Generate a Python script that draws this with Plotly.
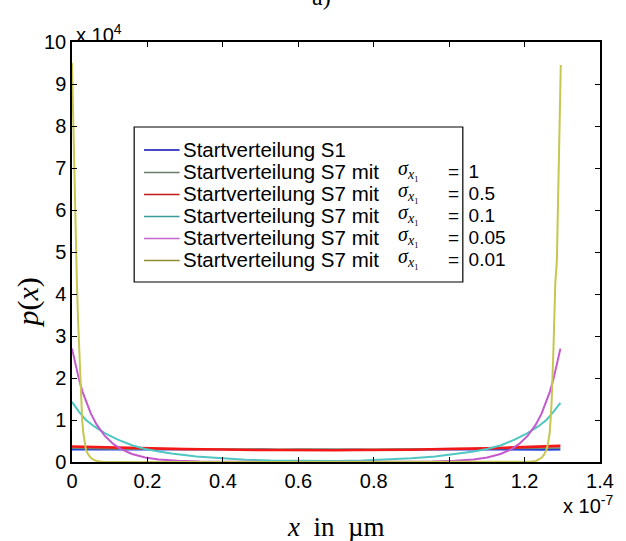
import plotly.graph_objects as go

# x values are in units of 1e-7, y values are absolute densities
X_UNIT = 1e-7

# --- data -------------------------------------------------------------
grid_x = [0, 0.05, 0.10, 0.15, 0.20, 0.25, 0.30, 0.35, 0.40, 0.45, 0.50, 0.55, 0.60,
          0.65, 0.70, 0.75, 0.80, 0.85, 0.90, 0.95, 1.00, 1.05, 1.10, 1.15, 1.20, 1.25, 1.295]

s1_y = [2900, 2950, 2870, 2980, 2900, 2940, 3010, 2880, 2960, 2920, 3000, 2890, 2950, 3020,
        2910, 2970, 2880, 2990, 2930, 2900, 2960, 2880, 2940, 2910, 2970, 2890, 2900]

sig1_y = [3300, 3200, 3150, 3100, 3120, 3050, 3080, 3020, 3060, 3000, 3040, 3010, 3050, 3000,
          3030, 3060, 3010, 3050, 3070, 3040, 3090, 3110, 3080, 3140, 3180, 3250, 3320]

sig05_y = [3700, 3580, 3430, 3350, 3220, 3170, 3060, 3030, 2940, 2920, 2850, 2860, 2790, 2820,
           2800, 2860, 2850, 2920, 2930, 3020, 3060, 3180, 3240, 3400, 3500, 3700, 3850]

sig01_x = [0, 0.018, 0.037, 0.06, 0.087, 0.12, 0.159, 0.194, 0.23, 0.264, 0.33, 0.395, 0.46,
           0.526, 0.6, 0.65, 0.7, 0.77, 0.84, 0.90, 0.963, 1.03, 1.065, 1.10, 1.138, 1.175,
           1.208, 1.235, 1.258, 1.277, 1.295]
sig01_y = [14300, 12000, 10000, 8400, 6900, 5400, 4000, 3100, 2500, 2000, 1300, 880, 550,
           350, 260, 240, 260, 350, 560, 870, 1300, 2000, 2500, 3100, 4000, 5400,
           6900, 8400, 10000, 12000, 14100]

sig005_x = [0, 0.01, 0.019, 0.028, 0.037, 0.05, 0.065, 0.087, 0.11, 0.13, 0.159, 0.194, 0.23,
            0.28, 0.34, 0.40, 0.5, 0.65, 0.8, 0.895, 0.955, 1.015, 1.065, 1.101, 1.136, 1.165,
            1.185, 1.208, 1.23, 1.245, 1.258, 1.267, 1.276, 1.285, 1.295]
sig005_y = [27000, 22800, 19500, 16700, 14400, 11500, 8950, 6200, 4250, 3050, 1900, 1080, 620,
            290, 130, 60, 25, 15, 25, 60, 130, 290, 620, 1080, 1900, 3050,
            4250, 6200, 8950, 11500, 14400, 16700, 19500, 22800, 27000]

sig001_x = [0, 0.005, 0.0105, 0.013, 0.016, 0.019, 0.024, 0.027, 0.030, 0.034, 0.037, 0.043,
            0.05, 0.057, 0.065, 0.08, 0.1, 0.3, 0.65, 1.0, 1.2, 1.215, 1.23, 1.238, 1.245,
            1.252, 1.258, 1.262, 1.2665, 1.269, 1.272, 1.2765, 1.279, 1.2815, 1.2857, 1.291,
            1.296]
sig001_y = [95000, 72000, 50500, 42600, 34000, 26700, 14800, 10000, 6900, 4300, 2900, 1800,
            1000, 550, 250, 40, 0, 0, 0, 0, 0, 40, 250, 550, 1000,
            1800, 2900, 4300, 6900, 10000, 14800, 26700, 34000, 42600, 48000, 72000,
            94500]

sigma_labels = ["1", "0.5", "0.1", "0.05", "0.01"]
x_tick_values = [0, 0.2, 0.4, 0.6, 0.8, 1.0, 1.2, 1.4]
x_tick_labels = ["0", "0.2", "0.4", "0.6", "0.8", "1", "1.2", "1.4"]
y_tick_values = [0, 1e4, 2e4, 3e4, 4e4, 5e4, 6e4, 7e4, 8e4, 9e4, 1e5]
y_tick_labels = ["0", "1", "2", "3", "4", "5", "6", "7", "8", "9", "10"]

# --- styling ----------------------------------------------------------
W, H = 626, 541
L, R, T, B = 72, 19, 42, 79
PW, PH = W - L - R, H - T - B

def px(xp):
    return (xp - L) / PW

def py(yp):
    return (H - B - yp) / PH

SANS = "Liberation Sans, Arial, sans-serif"
SERIF = "Liberation Serif, Times New Roman, serif"

series = [
    (grid_x, s1_y, "Startverteilung S1", "#1E3CE0", "#0A0AB4", 1.6),
    (grid_x, sig1_y, "Startverteilung S7 mit σ = 1", "#6F8A6F", "#6C7C6C", 1.8),
    (grid_x, sig05_y, "Startverteilung S7 mit σ = 0.5", "#F21818", "#C41A1A", 2.6),
    (sig01_x, sig01_y, "Startverteilung S7 mit σ = 0.1", "#4FC6C2", "#3A9C98", 2.0),
    (sig005_x, sig005_y, "Startverteilung S7 mit σ = 0.05", "#C458CC", "#C866CC", 2.0),
    (sig001_x, sig001_y, "Startverteilung S7 mit σ = 0.01", "#C6C650", "#8E8E36", 2.0),
]

fig = go.Figure()
for xs, ys, name, color, _, width in series:
    fig.add_trace(go.Scatter(
        x=[v * X_UNIT for v in xs], y=ys, mode="lines", name=name,
        line=dict(color=color, width=width),
        showlegend=False,
    ))

axis_common = dict(
    showline=True, linecolor="black", linewidth=1.5, mirror="allticks",
    ticks="inside", ticklen=5, tickwidth=1.2, tickcolor="black",
    showgrid=False, zeroline=False,
    tickfont=dict(family=SANS, size=20, color="black"),
)

fig.update_xaxes(range=[0, 1.4 * X_UNIT], tickmode="array",
                 tickvals=[v * X_UNIT for v in x_tick_values], ticktext=x_tick_labels,
                 **axis_common)
fig.update_yaxes(range=[0, 1e5], tickmode="array",
                 tickvals=y_tick_values, ticktext=y_tick_labels, **axis_common)

shapes = []
annotations = []

# legend box
shapes.append(dict(type="rect", xref="paper", yref="paper",
                   x0=px(135), x1=px(468), y0=py(282), y1=py(127),
                   line=dict(color="black", width=1.2), fillcolor="white", layer="above"))

row_y = [149, 171.5, 193.5, 215.5, 237.5, 259.5]
for i, (_, _, _, _, lcolor, _) in enumerate(series):
    yl = row_y[i]
    shapes.append(dict(type="line", xref="paper", yref="paper",
                       x0=px(145), x1=px(181), y0=py(yl + 1), y1=py(yl + 1),
                       line=dict(color=lcolor, width=1.6), layer="above"))
    text = "Startverteilung S1" if i == 0 else "Startverteilung S7 mit"
    annotations.append(dict(xref="paper", yref="paper", x=px(182), y=py(yl),
                            xanchor="left", yanchor="middle", showarrow=False,
                            text=text, font=dict(family=SANS, size=20.5, color="black")))
    if i > 0:
        annotations.append(dict(xref="paper", yref="paper", x=px(400), y=py(yl - 2),
                                xanchor="left", yanchor="middle", showarrow=False,
                                text="<i>σ</i><sub><i>x</i>₁</sub>",
                                font=dict(family=SERIF, size=20, color="black")))
        annotations.append(dict(xref="paper", yref="paper", x=px(451), y=py(yl),
                                xanchor="left", yanchor="middle", showarrow=False,
                                text="=\u2002" + sigma_labels[i - 1],
                                font=dict(family=SANS, size=19, color="black")))

# exponent labels
annotations.append(dict(xref="paper", yref="paper", x=px(74), y=py(33),
                        xanchor="left", yanchor="middle", showarrow=False,
                        text="x 10<sup>4</sup>", font=dict(family=SANS, size=20, color="black")))
annotations.append(dict(xref="paper", yref="paper", x=px(622), y=py(504),
                        xanchor="right", yanchor="middle", showarrow=False,
                        text="x 10<sup>-7</sup>", font=dict(family=SANS, size=20, color="black")))

# axis titles
annotations.append(dict(xref="paper", yref="paper", x=px(339), y=py(527),
                        xanchor="center", yanchor="middle", showarrow=False,
                        text="<i>x</i>\u2002in\u2002µm", font=dict(family=SERIF, size=27, color="black")))
annotations.append(dict(xref="paper", yref="paper", x=px(27), y=py(303),
                        xanchor="center", yanchor="middle", showarrow=False, textangle=-90,
                        text="<i>p</i>(<i>x</i>)", font=dict(family=SERIF, size=30, color="black")))

# panel title
annotations.append(dict(xref="paper", yref="paper", x=px(325), y=py(-3),
                        xanchor="center", yanchor="middle", showarrow=False,
                        text="a)", font=dict(family=SERIF, size=24, color="black")))

fig.update_layout(
    width=W, height=H,
    margin=dict(l=L, r=R, t=T, b=B),
    paper_bgcolor="white", plot_bgcolor="white",
    showlegend=False,
    shapes=shapes, annotations=annotations,
)

fig.write_html("out.html")
